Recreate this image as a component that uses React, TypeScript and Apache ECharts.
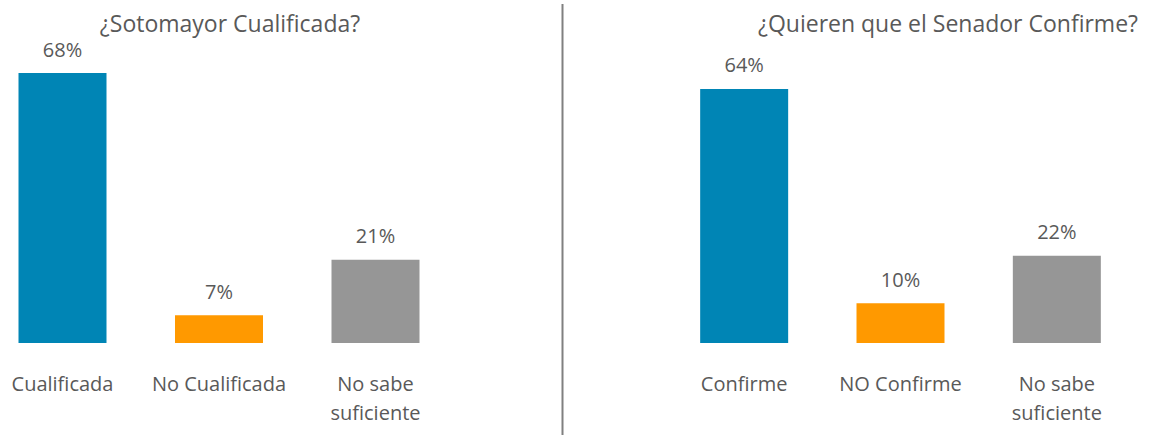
import React, { useEffect, useRef } from "react";
import * as echarts from "echarts";

const leftTitle = "¿Sotomayor Cualificada?";
const rightTitle = "¿Quieren que el Senador Confirme?";
const leftCategories = ["Cualificada", "No Cualificada", "No sabe\nsuficiente"];
const leftValues = [68, 7, 21];
const rightCategories = ["Confirme", "NO Confirme", "No sabe\nsuficiente"];
const rightValues = [64, 10, 22];
const barColors = ["#0085B5", "#FF9900", "#969696"];

const FONT = "'Open Sans', sans-serif";
const TEXT = "#595959";
const OFF = 20; // chart div starts OFF px left of the page edge

export default function App() {
  const ref = useRef<HTMLDivElement>(null);
  useEffect(() => {
    if (!ref.current) return;
    const chart = echarts.init(ref.current, null, { renderer: "svg" });
    const mkX = (idx: number, cats: string[]) => ({
      type: "category",
      gridIndex: idx,
      data: cats,
      axisLine: { show: false },
      axisTick: { show: false },
      axisLabel: {
        color: TEXT,
        fontFamily: FONT,
        fontSize: 20,
        lineHeight: 29,
        margin: 26,
        interval: 0,
      },
    });
    const mkY = (idx: number) => ({
      type: "value",
      gridIndex: idx,
      min: 0,
      max: 80,
      show: false,
      splitLine: { show: false },
    });
    const mkS = (idx: number, vals: number[]) => ({
      type: "bar",
      xAxisIndex: idx,
      yAxisIndex: idx,
      barWidth: 88,
      data: vals.map((v, i) => ({ value: v, itemStyle: { color: barColors[i] } })),
      label: {
        show: true,
        position: "top",
        distance: 14,
        formatter: "{c}%",
        color: TEXT,
        fontFamily: FONT,
        fontSize: 20,
      },
    });
    chart.setOption({
      animation: false,
      grid: [
        { left: OFF - 15.75, width: 469.5, top: 25.4, bottom: 92 },
        { left: OFF + 666, width: 469, top: 25.4, bottom: 92 },
      ],
      xAxis: [mkX(0, leftCategories), mkX(1, rightCategories)],
      yAxis: [mkY(0), mkY(1)],
      series: [mkS(0, leftValues), mkS(1, rightValues)],
      graphic: [
        {
          type: "text",
          x: OFF + 230,
          y: 23,
          style: {
            text: leftTitle,
            fill: TEXT,
            font: `23px ${FONT}`,
            textAlign: "center",
            textVerticalAlign: "middle",
          },
        },
        {
          type: "text",
          x: OFF + 948,
          y: 23,
          style: {
            text: rightTitle,
            fill: TEXT,
            font: `23px ${FONT}`,
            textAlign: "center",
            textVerticalAlign: "middle",
          },
        },
        {
          type: "line",
          shape: { x1: OFF + 562.5, y1: 4, x2: OFF + 562.5, y2: 435 },
          style: { stroke: "#808080", lineWidth: 2 },
        },
      ],
    });
    return () => chart.dispose();
  }, []);
  return (
    <div
      ref={ref}
      style={{ position: "absolute", left: -OFF, top: 0, width: 1150 + OFF, height: 435 }}
    />
  );
}
